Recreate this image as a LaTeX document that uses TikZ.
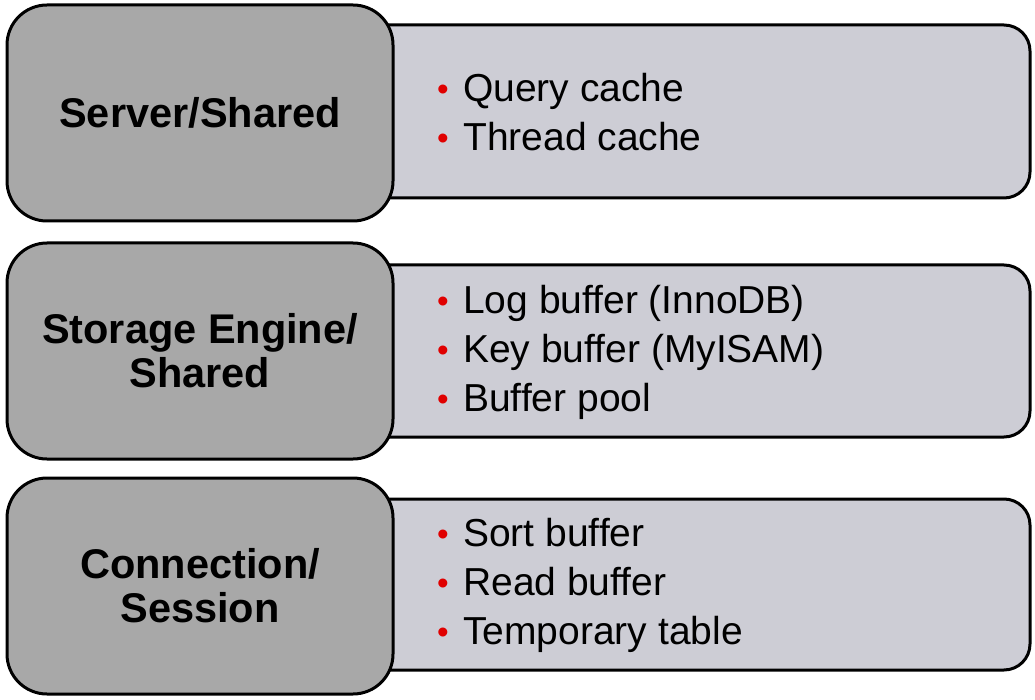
\documentclass[tikz,border=0pt]{standalone}
\usepackage{fontspec}
\setmainfont{Liberation Sans}
\definecolor{leftfill}{HTML}{A8A8A8}
\definecolor{rightfill}{HTML}{CDCDD5}
\definecolor{bulletred}{HTML}{E00000}
\newcommand{\rbul}{\makebox[28pt][l]{\hspace{2pt}\textcolor{bulletred}{\raisebox{1pt}{\scalebox{0.85}{\textbullet}}}}}
\tikzset{
  catbox/.style={draw=black, line width=3pt, fill=leftfill, rounded corners=40pt,
    minimum width=386pt, align=center,
    font=\bfseries\fontsize{41.5}{44}\selectfont},
  listbox/.style={draw=black, line width=3pt, fill=rightfill, rounded corners=26pt,
    minimum width=730pt},
  listtext/.style={anchor=west, align=left, inner sep=0pt,
    font=\fontsize{39}{49}\selectfont}
}
\begin{document}
\begin{tikzpicture}[x=1pt,y=1pt]
\useasboundingbox[fill=white] (0,0) rectangle (1035,-700);
% row 1
\node[listbox, minimum height=173pt] (r1) at (665,-111.5) {};
\node[catbox, minimum height=216pt] (l1) at (200,-113) {Server/Shared};
\node[listtext] (t1) at (435,-112) {\rbul Query cache\\ \rbul Thread cache};
% row 2
\node[listbox, minimum height=172pt] (r2) at (665,-351) {};
\node[catbox, minimum height=216pt] (l2) at (200,-351) {Storage Engine/\\Shared};
\node[listtext] (t2) at (435,-352) {\rbul Log buffer (InnoDB)\\ \rbul Key buffer (MyISAM)\\ \rbul Buffer pool};
% row 3
\node[listbox, minimum height=171pt] (r3) at (665,-584.5) {};
\node[catbox, minimum height=216pt] (l3) at (200,-586) {Connection/\\Session};
\node[listtext] (t3) at (435,-585) {\rbul Sort buffer\\ \rbul Read buffer\\ \rbul Temporary table};
\end{tikzpicture}
\end{document}
